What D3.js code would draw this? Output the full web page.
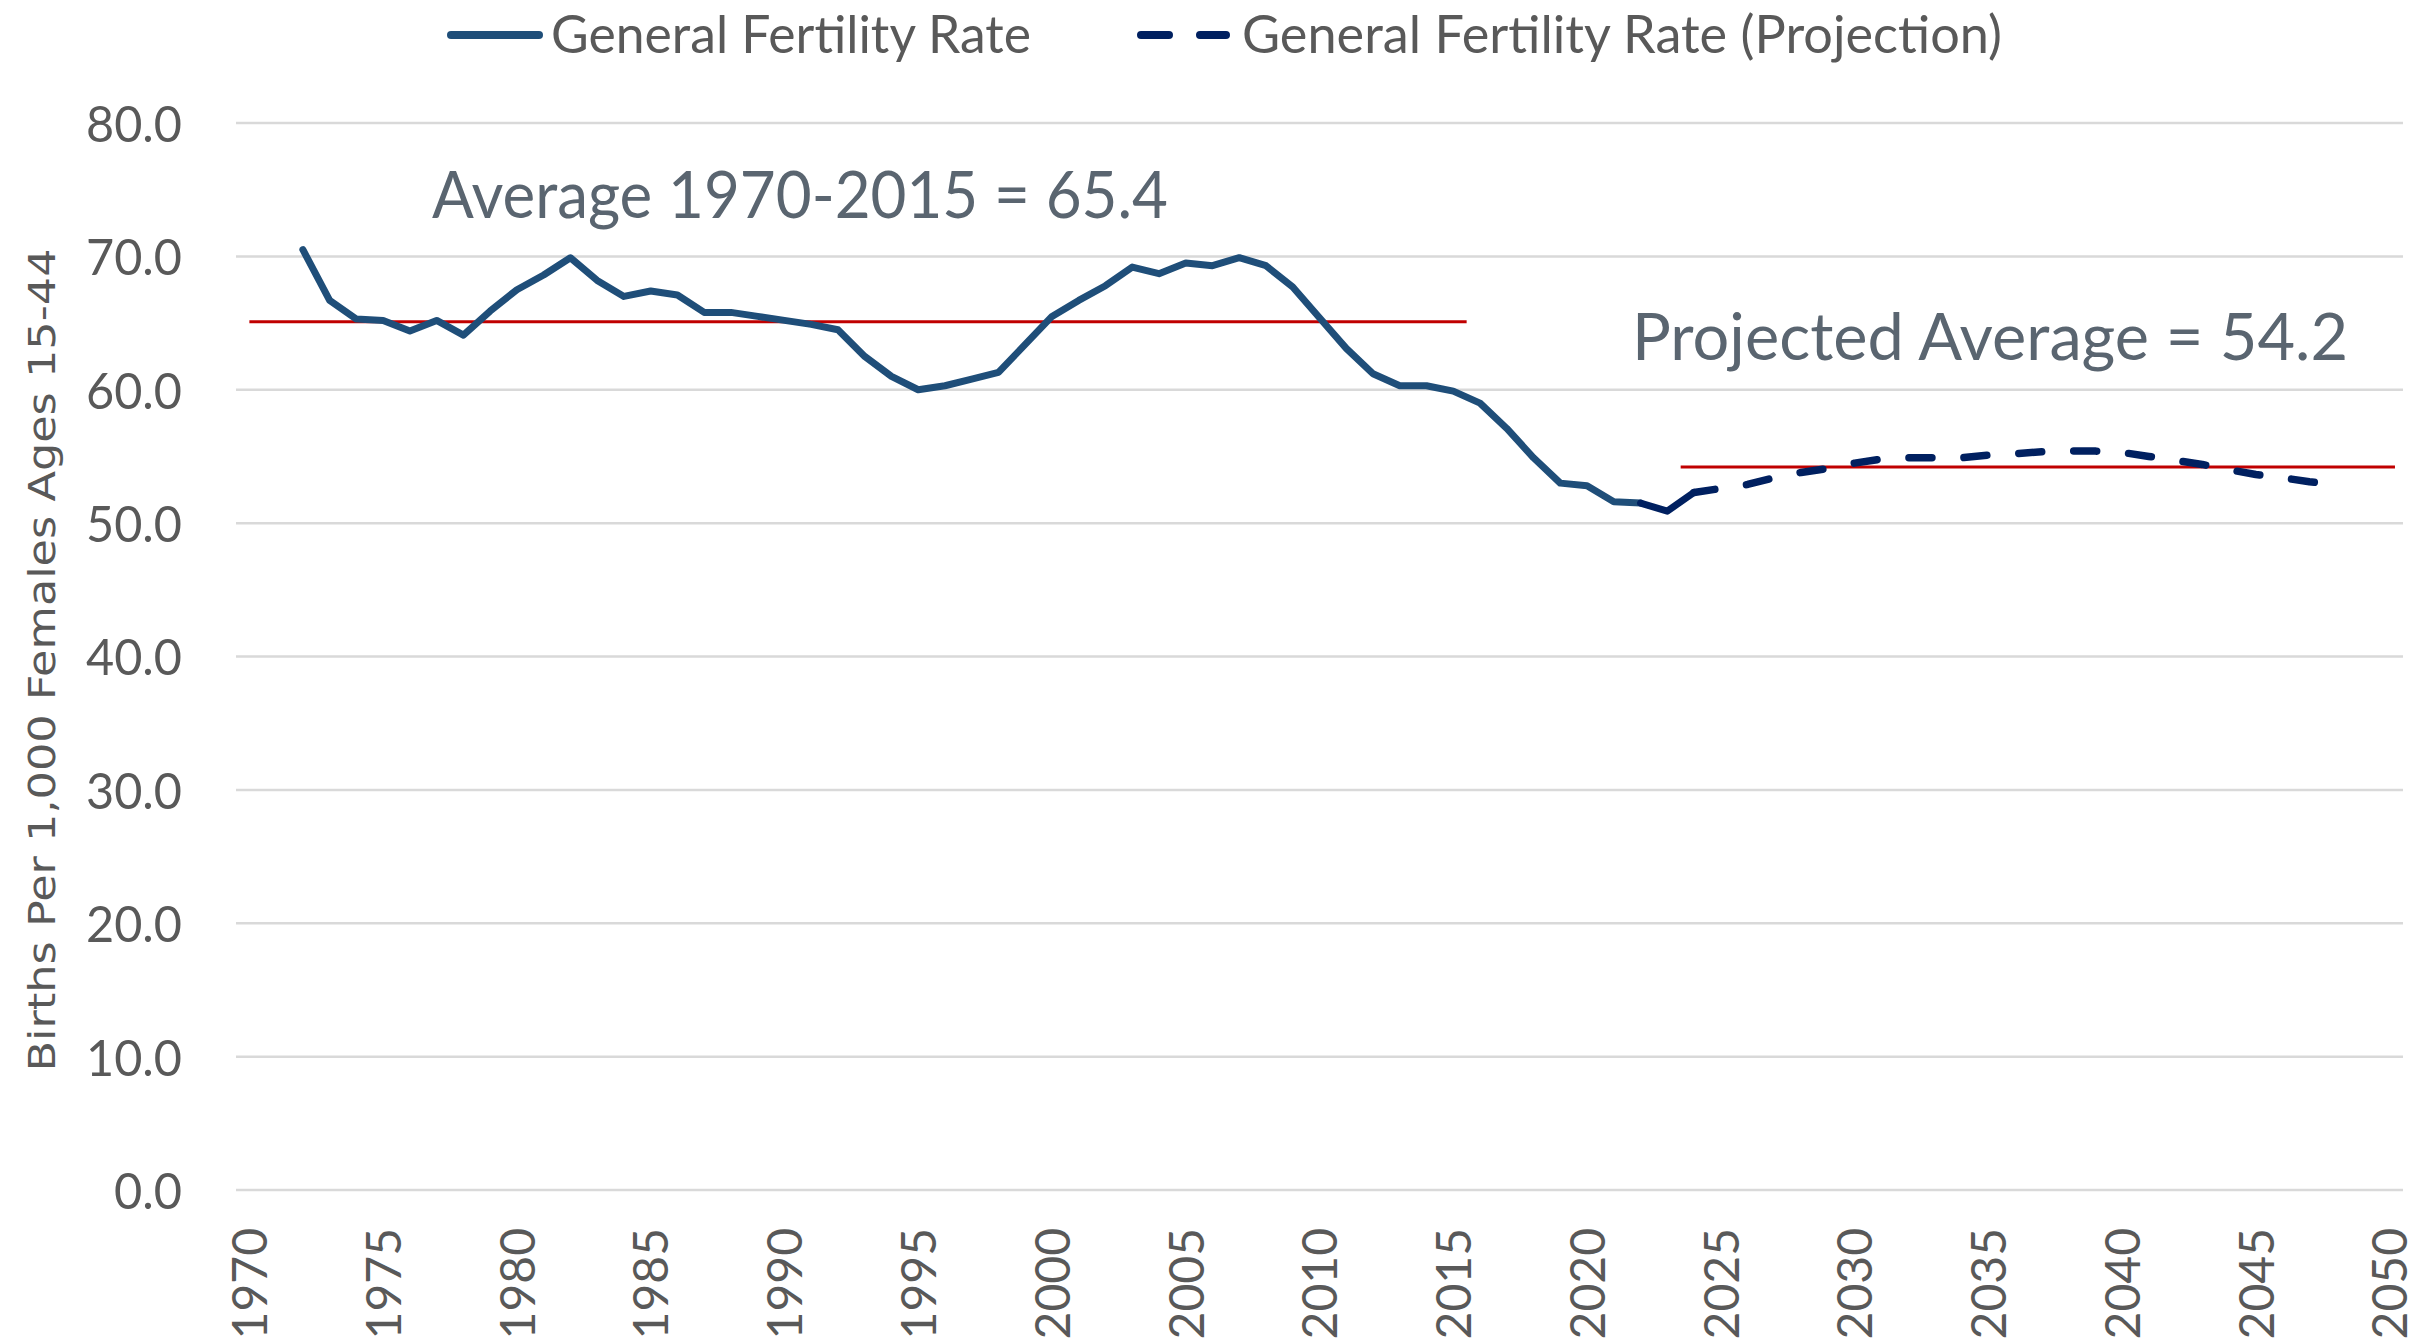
<!DOCTYPE html>
<html>
<head>
<meta charset="utf-8">
<script src="https://cdn.jsdelivr.net/npm/d3@7"></script>
<style>
  body { margin: 0; background: #fff; }
  svg { display: block; }
</style>
</head>
<body>
<script>
// category axis 1970-2050, labels every 5 years
var years = d3.range(1970, 2051);
var tickYears = years.filter(function(y) { return y % 5 === 0; });
var yTicks = [0, 10, 20, 30, 40, 50, 60, 70, 80];

// general fertility rate (actual)
var histYears = d3.range(1972, 2023);
var histValues = [
  70.5, 66.7, 65.3, 65.2, 64.4, 65.2, 64.1, 65.9, 67.5, 68.6,   // 1972-1981
  69.9, 68.2, 67.0, 67.4, 67.1, 65.8, 65.8, 65.5, 65.2, 64.9,   // 1982-1991
  64.5, 62.5, 61.0, 60.0, 60.3, 60.8, 61.3, 63.4, 65.5, 66.7,   // 1992-2001
  67.8, 69.2, 68.7, 69.5, 69.3, 69.9, 69.3, 67.7, 65.4, 63.1,   // 2002-2011
  61.2, 60.3, 60.3, 59.9, 59.0, 57.1, 54.9, 53.0, 52.8, 51.6, 51.5 // 2012-2022
];

// general fertility rate (projection)
var projYears = d3.range(2022, 2049);
var projValues = [
  51.5, 50.9, 52.3, 52.6, 52.9, 53.4, 53.8, 54.1, 54.5, 54.8,   // 2022-2031
  54.9, 54.9, 54.9, 55.1, 55.2, 55.35, 55.4, 55.4, 55.3, 55.0,  // 2032-2041
  54.7, 54.4, 54.0, 53.65, 53.4, 53.1, 52.9                     // 2042-2048
];

// average reference lines
var avgLabels = ["Average 1970-2015 = 65.4", "Projected Average = 54.2"];
var avgValues = [65.1, 54.2];
var avgFrom = [1970, 2023.5];
var avgTo = [2015.5, 2050.2];

var seriesNames = ["General Fertility Rate", "General Fertility Rate (Projection)"];

var W = 2419, H = 1340;
var plot = {left: 236, right: 2403, top: 123, bottom: 1190};

var histColor = "#1F4E79", projColor = "#002060", avgColor = "#C00000";
var textGray = "#595959", noteColor = "#5A6570";

var svg = d3.select("body").append("svg")
    .attr("width", W)
    .attr("height", H);

// scales
var x = d3.scaleLinear()
    .domain([1969.5, 2050.5])
    .range([plot.left, plot.right]);

var y = d3.scaleLinear()
    .domain([0, 80])
    .range([plot.bottom, plot.top]);

// gridlines
svg.append("g")
  .selectAll("line")
  .data(yTicks)
  .enter().append("line")
    .attr("x1", plot.left)
    .attr("x2", plot.right)
    .attr("y1", function(d) { return y(d); })
    .attr("y2", function(d) { return y(d); })
    .attr("stroke", "#D9D9D9")
    .attr("stroke-width", 2.5);

// y axis labels
var yAxis = d3.axisLeft(y)
    .tickValues(yTicks)
    .tickFormat(d3.format(".1f"))
    .tickSize(0)
    .tickPadding(0);

svg.append("g")
    .attr("transform", "translate(182,0)")
    .call(yAxis)
    .call(function(g) { g.select(".domain").remove(); })
  .selectAll("text")
    .attr("font-family", "Lato, 'Open Sans', sans-serif")
    .attr("font-size", 51)
    .attr("fill", textGray)
    .attr("textLength", function(d) { return d >= 10 ? 96 : 68; })
    .attr("lengthAdjust", "spacingAndGlyphs")
    .attr("dy", "0.36em");

// x axis labels (rotated)
var xAxis = d3.axisBottom(x)
    .tickValues(tickYears)
    .tickFormat(d3.format("d"))
    .tickSize(0)
    .tickPadding(0);

svg.append("g")
    .attr("transform", "translate(0," + 1228 + ")")
    .call(xAxis)
    .call(function(g) { g.select(".domain").remove(); })
  .selectAll("text")
    .attr("font-family", "Lato, 'Open Sans', sans-serif")
    .attr("font-size", 48)
    .attr("fill", textGray)
    .attr("y", 0)
    .attr("dy", "0.36em")
    .attr("text-anchor", "end")
    .attr("transform", "rotate(-90)");

// y axis title
svg.append("text")
    .attr("transform", "translate(55,660) rotate(-90)")
    .attr("text-anchor", "middle")
    .attr("font-family", "'DejaVu Sans', sans-serif")
    .attr("font-size", 38)
    .attr("fill", textGray)
    .attr("textLength", 823)
    .attr("lengthAdjust", "spacingAndGlyphs")
    .text("Births Per 1,000 Females Ages 15-44");

// average lines
svg.append("g")
  .selectAll("line")
  .data(avgValues)
  .enter().append("line")
    .attr("x1", function(d, i) { return x(avgFrom[i]); })
    .attr("x2", function(d, i) { return x(avgTo[i]); })
    .attr("y1", function(d) { return y(d); })
    .attr("y2", function(d) { return y(d); })
    .attr("stroke", avgColor)
    .attr("stroke-width", 3);

// line generator
var line = d3.line()
    .x(function(d) { return x(d[0]); })
    .y(function(d) { return y(d[1]); });

var hist = d3.zip(histYears, histValues);
var proj = d3.zip(projYears, projValues);

svg.append("path")
    .datum(hist)
    .attr("d", line)
    .attr("fill", "none")
    .attr("stroke", histColor)
    .attr("stroke-width", 7)
    .attr("stroke-linejoin", "round")
    .attr("stroke-linecap", "round");

// first stretch of projection is drawn solid, the rest dashed
svg.append("path")
    .datum(proj.slice(0, 3))
    .attr("d", line)
    .attr("fill", "none")
    .attr("stroke", projColor)
    .attr("stroke-width", 7)
    .attr("stroke-linejoin", "round")
    .attr("stroke-linecap", "round");

svg.append("path")
    .datum(proj.slice(2))
    .attr("d", line)
    .attr("fill", "none")
    .attr("stroke", projColor)
    .attr("stroke-width", 7.5)
    .attr("stroke-linejoin", "round")
    .attr("stroke-linecap", "round")
    .attr("stroke-dasharray", "23,32")
    .attr("stroke-dashoffset", 2);

// annotations
var notePos = [[432, 218, 736], [1632, 360, 716]];
svg.append("g")
  .selectAll("text")
  .data(avgLabels)
  .enter().append("text")
    .attr("x", function(d, i) { return notePos[i][0]; })
    .attr("y", function(d, i) { return notePos[i][1]; })
    .attr("textLength", function(d, i) { return notePos[i][2]; })
    .attr("lengthAdjust", "spacingAndGlyphs")
    .attr("font-family", "Lato, 'Open Sans', sans-serif")
    .attr("font-size", 65)
    .attr("fill", noteColor)
    .text(function(d) { return d; });

// legend
var legend = svg.append("g");

legend.append("line")
    .attr("x1", 451).attr("x2", 539)
    .attr("y1", 35).attr("y2", 35)
    .attr("stroke", histColor)
    .attr("stroke-width", 8)
    .attr("stroke-linecap", "round");

legend.append("line")
    .attr("x1", 1141).attr("x2", 1226)
    .attr("y1", 35).attr("y2", 35)
    .attr("stroke", projColor)
    .attr("stroke-width", 8)
    .attr("stroke-linecap", "round")
    .attr("stroke-dasharray", "28,31");

var legendPos = [[551, 480], [1242, 760]];
legend.selectAll("text")
  .data(seriesNames)
  .enter().append("text")
    .attr("x", function(d, i) { return legendPos[i][0]; })
    .attr("y", 53)
    .attr("textLength", function(d, i) { return legendPos[i][1]; })
    .attr("lengthAdjust", "spacingAndGlyphs")
    .attr("font-family", "Lato, 'Open Sans', sans-serif")
    .attr("font-size", 53)
    .attr("fill", textGray)
    .text(function(d) { return d; });
</script>
</body>
</html>
